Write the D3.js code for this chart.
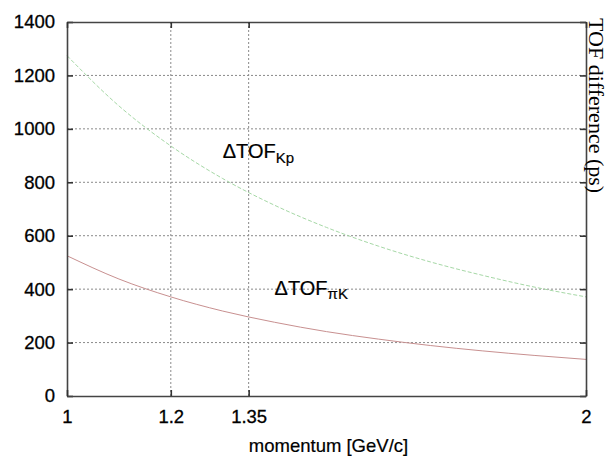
<!DOCTYPE html>
<html><head><meta charset="utf-8">
<script src="https://cdn.jsdelivr.net/npm/d3@7"></script>
<style>body{margin:0;background:#fff}svg{display:block}</style>
</head><body>
<svg id="c" width="610" height="458"></svg>
<script>
const momentum = [1.0, 1.1, 1.2, 1.3, 1.4, 1.5, 1.6, 1.7, 1.8, 1.9, 2.0];
const tofPiK   = [525, 438, 371, 318, 276, 241, 213, 189, 169, 152, 137];
const tofKp    = [1274, 1086, 936, 814, 714, 631, 561, 502, 452, 408, 371];
const xTicks = [1, 1.2, 1.35, 2];
const xTickLabels = ["1", "1.2", "1.35", "2"];
const yTicks = [0, 200, 400, 600, 800, 1000, 1200, 1400];
const xGrid = [1.2, 1.35];
const yGrid = [200, 400, 600, 800, 1000, 1200];

const W = 610, H = 458;
const m = {l: 67, t: 22, r: 24, b: 62};
const svg = d3.select("#c");
const x = d3.scaleLinear().domain([1, 2]).range([m.l, W - m.r]);
const y = d3.scaleLinear().domain([0, 1400]).range([H - m.b, m.t]);
const font = "Liberation Sans, Arial, Helvetica, sans-serif";

// grid
svg.append("g").selectAll("line").data(yGrid).join("line")
  .attr("x1", x(1)).attr("x2", x(2)).attr("y1", d => y(d)).attr("y2", d => y(d))
  .attr("stroke", "#8a8a8a").attr("stroke-width", 1).attr("stroke-dasharray", "2,2");
svg.append("g").selectAll("line").data(xGrid).join("line")
  .attr("y1", y(0)).attr("y2", y(1400)).attr("x1", d => x(d)).attr("x2", d => x(d))
  .attr("stroke", "#8a8a8a").attr("stroke-width", 1).attr("stroke-dasharray", "2,2");

// curves
const line = (vals) => d3.line().curve(d3.curveMonotoneX)
  .x((d, i) => x(momentum[i])).y(d => y(d))(vals);
svg.append("path").attr("d", line(tofKp)).attr("fill", "none")
  .attr("stroke", "#a6d8a6").attr("stroke-width", 1).attr("stroke-dasharray", "4,2");
svg.append("path").attr("d", line(tofPiK)).attr("fill", "none")
  .attr("stroke", "#c89090").attr("stroke-width", 1);

// axes (inward ticks on all sides)
const axL = svg.append("g").attr("transform", `translate(${x(1)},0)`)
  .call(d3.axisLeft(y).tickValues(yTicks).tickSizeInner(-6).tickSizeOuter(0).tickPadding(12)
    .tickFormat(d3.format("d")));
const axR = svg.append("g").attr("transform", `translate(${x(2)},0)`)
  .call(d3.axisRight(y).tickValues(yTicks).tickSizeInner(-6).tickSizeOuter(0).tickFormat(""));
const axB = svg.append("g").attr("transform", `translate(0,${y(0)})`)
  .call(d3.axisBottom(x).tickValues(xTicks).tickSizeInner(-6).tickSizeOuter(0).tickPadding(14)
    .tickFormat((d, i) => xTickLabels[i]));
const axT = svg.append("g").attr("transform", `translate(0,${y(1400)})`)
  .call(d3.axisTop(x).tickValues(xTicks).tickSizeInner(-6).tickSizeOuter(0).tickFormat(""));
[axL, axR, axB, axT].forEach(a => {
  a.select(".domain").attr("stroke", "#444").attr("stroke-width", 1.6);
  a.selectAll(".tick line").attr("stroke", "#333").attr("stroke-width", 1.6);
  a.selectAll("text").attr("font-family", font).attr("font-size", 18.5).attr("fill", "#000")
    .attr("stroke", "#000").attr("stroke-width", 0.3);
});

// x axis title
svg.append("text").attr("x", (x(1) + x(2)) / 2 + 2).attr("y", 452)
  .attr("text-anchor", "middle").attr("font-family", font).attr("font-size", 18.5)
  .attr("fill", "#000").attr("stroke", "#000").attr("stroke-width", 0.2).text("momentum [GeV/c]");

// right axis title
svg.append("text").attr("transform", "translate(589,18) rotate(90)")
  .attr("font-family", "Liberation Serif, Times New Roman, serif").attr("font-size", 22)
  .attr("fill", "#000").text("TOF difference (ps)");

// curve labels
function label(px, py, sub, subDy) {
  const t = svg.append("text").attr("x", x(px)).attr("y", y(py))
    .attr("font-family", font).attr("font-size", 20).attr("fill", "#000")
    .attr("stroke", "#000").attr("stroke-width", 0.2);
  t.append("tspan").text("\u0394TOF");
  t.append("tspan").attr("dy", subDy).attr("font-size", 15).text(sub);
}
label(1.30, 891, "Kp", 5);
label(1.40, 378, "\u03c0K", 4);
</script>
</body></html>
